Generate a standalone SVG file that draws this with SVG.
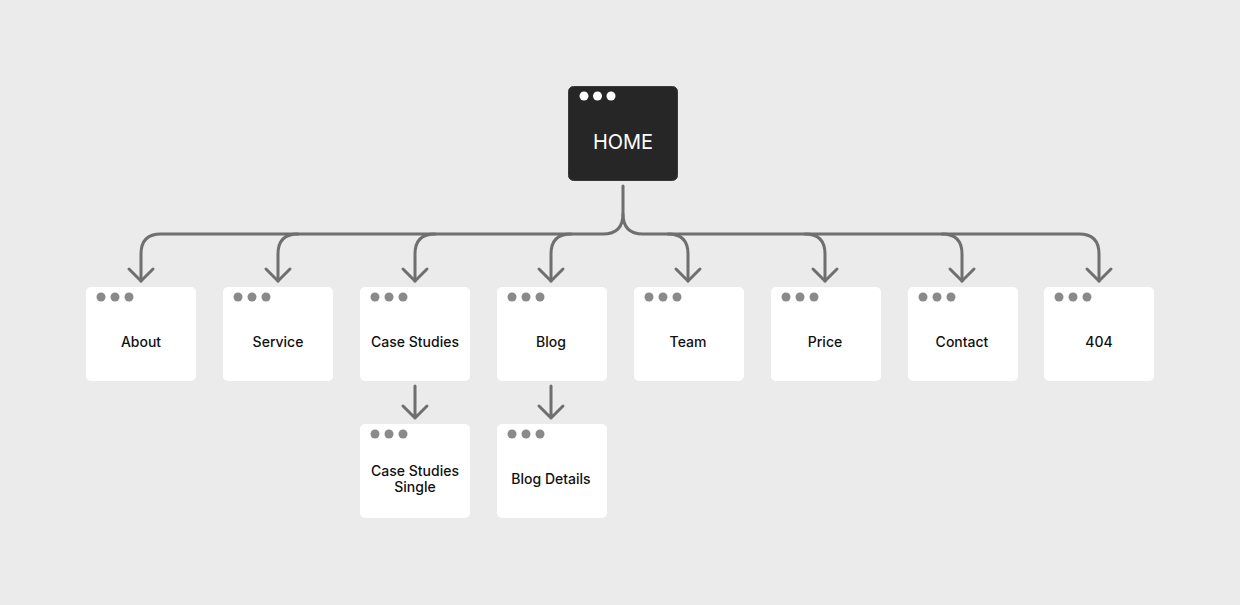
<svg xmlns="http://www.w3.org/2000/svg" width="1240" height="605" viewBox="0 0 1240 605">
<style>
.bg{fill:#ebebeb}
.page{fill:#ffffff}
.home{fill:#262626;stroke:#3a3a3a;stroke-width:1}
.dot{fill:#8a8a8a}
.hdot{fill:#ffffff}
.lbl{font-family:Inter,"Liberation Sans",sans-serif;font-size:14px;font-weight:500;fill:#111;text-anchor:middle}
.hlbl{font-family:Inter,"Liberation Sans",sans-serif;font-size:20px;fill:#ffffff;text-anchor:middle}
.con{fill:none;stroke:#6f6f6f;stroke-width:3;stroke-linecap:round;stroke-linejoin:round}
</style>
<defs>
<g id="dots"><circle cx="15" cy="10" r="4.5" class="dot"/><circle cx="29" cy="10" r="4.5" class="dot"/><circle cx="43" cy="10" r="4.5" class="dot"/></g>
</defs>
<rect class="bg" width="1240" height="605"/>
<g id="connectors" class="con">
<path d="M623 186 V214 Q623 234 603 234 H161 Q141 234 141 254 V281"/>
<path d="M623 214 Q623 234 643 234 H1079 Q1099 234 1099 254 V281"/>
<path d="M298 234 Q278 234 278 254 V281"/>
<path d="M435 234 Q415 234 415 254 V281"/>
<path d="M571 234 Q551 234 551 254 V281"/>
<path d="M668 234 Q688 234 688 254 V281"/>
<path d="M805 234 Q825 234 825 254 V281"/>
<path d="M942 234 Q962 234 962 254 V281"/>
<path d="M129 269 L141 281 L153 269"/>
<path d="M266 269 L278 281 L290 269"/>
<path d="M403 269 L415 281 L427 269"/>
<path d="M539 269 L551 281 L563 269"/>
<path d="M676 269 L688 281 L700 269"/>
<path d="M813 269 L825 281 L837 269"/>
<path d="M950 269 L962 281 L974 269"/>
<path d="M1087 269 L1099 281 L1111 269"/>
<path d="M415 386 V418 M403 406 L415 418 L427 406"/>
<path d="M551 386 V418 M539 406 L551 418 L563 406"/>
</g>
<g id="home">
<rect class="home" x="568.5" y="86.5" width="109" height="94" rx="5"/>
<circle cx="584" cy="96" r="4.5" class="hdot"/><circle cx="597.5" cy="96" r="4.5" class="hdot"/><circle cx="611" cy="96" r="4.5" class="hdot"/>
<text class="hlbl" x="623" y="149">HOME</text>
</g>
<g id="about"><rect class="page" x="86" y="287" width="110" height="94" rx="5"/><use href="#dots" x="86" y="287"/><text class="lbl" x="141" y="347">About</text></g>
<g id="service"><rect class="page" x="223" y="287" width="110" height="94" rx="5"/><use href="#dots" x="223" y="287"/><text class="lbl" x="278" y="347">Service</text></g>
<g id="case-studies"><rect class="page" x="360" y="287" width="110" height="94" rx="5"/><use href="#dots" x="360" y="287"/><text class="lbl" x="415" y="347">Case Studies</text></g>
<g id="blog"><rect class="page" x="497" y="287" width="110" height="94" rx="5"/><use href="#dots" x="497" y="287"/><text class="lbl" x="551" y="347">Blog</text></g>
<g id="team"><rect class="page" x="634" y="287" width="110" height="94" rx="5"/><use href="#dots" x="634" y="287"/><text class="lbl" x="688" y="347">Team</text></g>
<g id="price"><rect class="page" x="771" y="287" width="110" height="94" rx="5"/><use href="#dots" x="771" y="287"/><text class="lbl" x="825" y="347">Price</text></g>
<g id="contact"><rect class="page" x="908" y="287" width="110" height="94" rx="5"/><use href="#dots" x="908" y="287"/><text class="lbl" x="962" y="347">Contact</text></g>
<g id="e404"><rect class="page" x="1044" y="287" width="110" height="94" rx="5"/><use href="#dots" x="1044" y="287"/><text class="lbl" x="1099" y="347">404</text></g>
<g id="case-studies-single"><rect class="page" x="360" y="424" width="110" height="94" rx="5"/><use href="#dots" x="360" y="424"/><text class="lbl" x="415" y="476">Case Studies</text><text class="lbl" x="415" y="492">Single</text></g>
<g id="blog-details"><rect class="page" x="497" y="424" width="110" height="94" rx="5"/><use href="#dots" x="497" y="424"/><text class="lbl" x="551" y="484">Blog Details</text></g>
</svg>
